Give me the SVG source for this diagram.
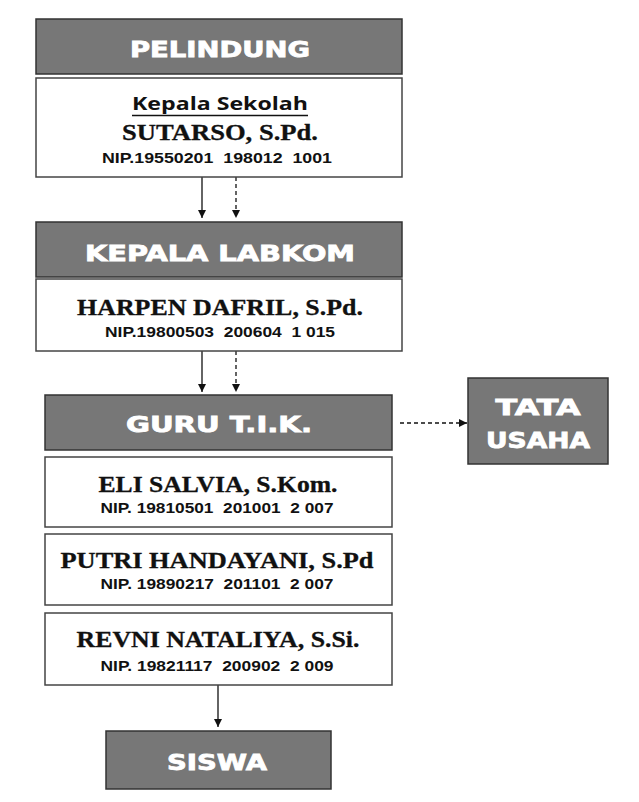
<svg xmlns="http://www.w3.org/2000/svg" width="639" height="802" viewBox="0 0 639 802">
<style>
.hdr{fill:#777777;stroke:#333333;stroke-width:1.5}
.box{fill:#ffffff;stroke:#444444;stroke-width:1.5}
.ht{font-family:"DejaVu Sans","Liberation Sans",Arial,sans-serif;font-weight:bold;font-size:21px;fill:#ffffff;stroke:#ffffff;stroke-width:0.8;text-anchor:middle}
.nm{font-family:"Liberation Serif","Times New Roman",serif;font-weight:bold;font-size:23px;fill:#111111;stroke:#111111;stroke-width:0.3;text-anchor:middle}
.nip{font-family:"Liberation Sans",Arial,sans-serif;font-weight:bold;font-size:14.5px;fill:#111111;text-anchor:middle;white-space:pre}
.ks{font-family:"Open Sans","DejaVu Sans",sans-serif;font-weight:700;font-size:17px;fill:#111111;text-anchor:middle}
.ln{stroke:#111111;stroke-width:1.3;fill:none}
.dl{stroke:#111111;stroke-width:1.3;fill:none;stroke-dasharray:4 3}
</style>
<defs>
<marker id="ah" viewBox="0 0 10 10" refX="10" refY="5" markerWidth="8" markerHeight="8" markerUnits="userSpaceOnUse" orient="auto">
<path d="M0,0 L10,5 L0,10 z" fill="#111111"/>
</marker>
</defs>

<g id="connectors">
<line class="ln" x1="202" y1="177" x2="202" y2="218" marker-end="url(#ah)"/>
<line class="dl" x1="236" y1="177" x2="236" y2="218" marker-end="url(#ah)"/>
<line class="ln" x1="202" y1="351" x2="202" y2="392" marker-end="url(#ah)"/>
<line class="dl" x1="236" y1="351" x2="236" y2="392" marker-end="url(#ah)"/>
<line class="dl" x1="400" y1="423" x2="467" y2="423" marker-end="url(#ah)"/>
<line class="ln" x1="218" y1="685" x2="218" y2="727" marker-end="url(#ah)"/>
</g>

<g id="pelindung">
<rect class="hdr" x="36" y="19" width="366" height="55"/>
<text class="ht" x="220" y="57" textLength="180" lengthAdjust="spacingAndGlyphs">PELINDUNG</text>
</g>

<g id="kepala-sekolah">
<rect class="box" x="36" y="78" width="366" height="99"/>
<text class="ks" x="220" y="110" textLength="176" lengthAdjust="spacingAndGlyphs">Kepala Sekolah</text>
<line x1="132" y1="115.5" x2="308" y2="115.5" stroke="#111111" stroke-width="1.5"/>
<text class="nm" x="220" y="140" textLength="196" lengthAdjust="spacingAndGlyphs">SUTARSO, S.Pd.</text>
<text class="nip" x="217" y="163" textLength="230" lengthAdjust="spacingAndGlyphs" xml:space="preserve">NIP.19550201  198012  1001</text>
</g>

<g id="kepala-labkom">
<rect class="hdr" x="36" y="222" width="366" height="55"/>
<text class="ht" x="220" y="261" textLength="270" lengthAdjust="spacingAndGlyphs">KEPALA LABKOM</text>
</g>

<g id="harpen">
<rect class="box" x="36" y="279" width="366" height="72"/>
<text class="nm" x="220" y="315" textLength="286" lengthAdjust="spacingAndGlyphs">HARPEN DAFRIL, S.Pd.</text>
<text class="nip" x="220" y="337" textLength="230" lengthAdjust="spacingAndGlyphs" xml:space="preserve">NIP.19800503  200604  1 015</text>
</g>

<g id="guru-tik">
<rect class="hdr" x="45" y="395" width="347" height="55"/>
<text class="ht" x="219" y="432" textLength="186" lengthAdjust="spacingAndGlyphs">GURU T.I.K.</text>
</g>

<g id="tata-usaha">
<rect class="hdr" x="468" y="378" width="140" height="86"/>
<text class="ht" x="538" y="415" textLength="85" lengthAdjust="spacingAndGlyphs">TATA</text>
<text class="ht" x="538" y="448" textLength="104" lengthAdjust="spacingAndGlyphs">USAHA</text>
</g>

<g id="eli">
<rect class="box" x="45" y="457" width="347" height="70"/>
<text class="nm" x="218" y="492" textLength="239" lengthAdjust="spacingAndGlyphs">ELI SALVIA, S.Kom.</text>
<text class="nip" x="217" y="513" textLength="233" lengthAdjust="spacingAndGlyphs" xml:space="preserve">NIP. 19810501  201001  2 007</text>
</g>

<g id="putri">
<rect class="box" x="45" y="534" width="347" height="71"/>
<text class="nm" x="217" y="568" textLength="313" lengthAdjust="spacingAndGlyphs">PUTRI HANDAYANI, S.Pd</text>
<text class="nip" x="217" y="589" textLength="233" lengthAdjust="spacingAndGlyphs" xml:space="preserve">NIP. 19890217  201101  2 007</text>
</g>

<g id="revni">
<rect class="box" x="45" y="613" width="347" height="72"/>
<text class="nm" x="218" y="647" textLength="283" lengthAdjust="spacingAndGlyphs">REVNI NATALIYA, S.Si.</text>
<text class="nip" x="217" y="671" textLength="233" lengthAdjust="spacingAndGlyphs" xml:space="preserve">NIP. 19821117  200902  2 009</text>
</g>

<g id="siswa">
<rect class="hdr" x="106" y="731" width="225" height="58"/>
<text class="ht" x="217" y="770" textLength="100" lengthAdjust="spacingAndGlyphs">SISWA</text>
</g>
</svg>
